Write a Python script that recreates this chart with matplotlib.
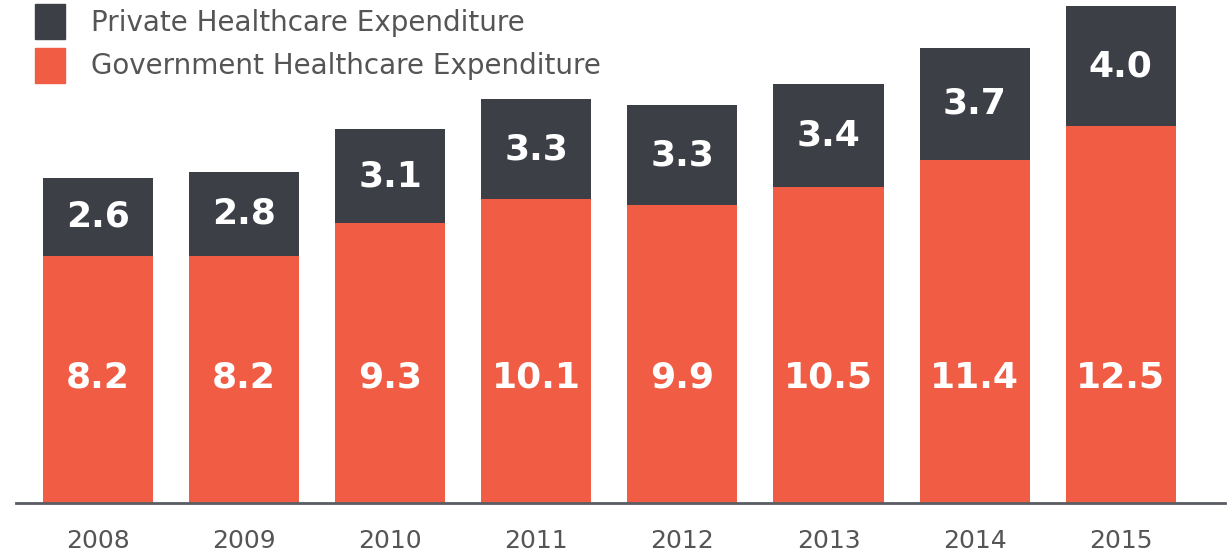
import matplotlib
matplotlib.use("Agg")
import matplotlib.pyplot as plt
from matplotlib.patches import Patch
import matplotlib.transforms as mtransforms

years = ["2008", "2009", "2010", "2011", "2012", "2013", "2014", "2015"]
government = [8.2, 8.2, 9.3, 10.1, 9.9, 10.5, 11.4, 12.5]
private = [2.6, 2.8, 3.1, 3.3, 3.3, 3.4, 3.7, 4.0]

c_priv = "#3d3f47"
c_gov = "#f05c44"
c_text = "#555555"

plt.rcParams['font.family'] = ['DejaVu Sans']

fig = plt.figure(figsize=(12.3, 5.55), dpi=100)
ax = fig.add_axes([16/1230, 1 - 503/555, (1225-16)/1230, 503/555])

x = list(range(len(years)))
w = 0.753
ax.bar(x, government, width=w, color=c_gov, label="Government Healthcare Expenditure")
ax.bar(x, private, width=w, bottom=government, color=c_priv, label="Private Healthcare Expenditure")

ax.set_xlim((16-98)/146.1, (1225-98)/146.1)
ax.set_ylim(0, 16.5*503/497)

trans = mtransforms.blended_transform_factory(ax.transData, ax.transAxes)
for xi, g, p in zip(x, government, private):
    ax.text(xi, 125/503, f"{g:.1f}", transform=trans, ha="center", va="center",
            color="white", fontsize=26, fontweight="bold")
    ax.text(xi, g + p/2, f"{p:.1f}", ha="center", va="center",
            color="white", fontsize=26, fontweight="bold")

for s in ["top", "right", "left"]:
    ax.spines[s].set_visible(False)
ax.spines["bottom"].set_color("#5a5c63")
ax.spines["bottom"].set_linewidth(2)
ax.set_yticks([])
ax.set_xticks(x)
ax.set_xticklabels(years, fontsize=18, color=c_text)
ax.tick_params(axis="x", length=0, pad=19)

handles = [Patch(color=c_priv), Patch(color=c_gov)]
labels = ["Private Healthcare Expenditure", "Government Healthcare Expenditure"]
leg = fig.legend(handles, labels, loc="upper left", bbox_to_anchor=(35/1230, 1 - 4/555),
                 frameon=False, fontsize=20, handlelength=1.08, handleheight=1.56,
                 handletextpad=0.93, labelspacing=0.32, borderaxespad=0, borderpad=0)
for t in leg.get_texts():
    t.set_color(c_text)

fig.savefig("out.png", dpi=100, facecolor="white")
